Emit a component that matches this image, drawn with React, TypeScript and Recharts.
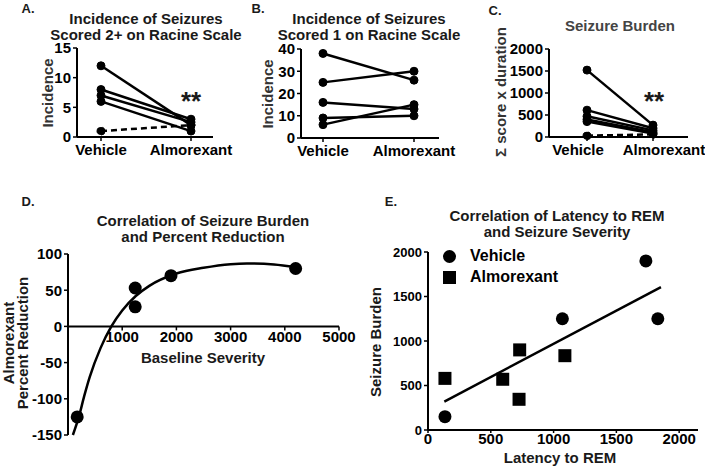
import React from "react";
import {
  LineChart,
  ComposedChart,
  Line,
  Scatter,
  XAxis,
  YAxis,
  ReferenceLine,
  Legend,
} from "recharts";

const FONT = '"Liberation Sans", Arial, sans-serif';

// categories shared by the three paired panels
const treatments = ["Vehicle", "Almorexant"];

// A. seizures scored 2+ (one value per animal, the last animal is drawn dashed)
const score2Vehicle = [12, 8, 7, 6, 1];
const score2Almorexant = [2, 3, 2.5, 1, 2];
const score2Ticks = [0, 5, 10, 15];

// B. seizures scored 1
const score1Vehicle = [38, 25, 16, 9, 6];
const score1Almorexant = [26, 30, 13, 10, 15];
const score1Ticks = [0, 10, 20, 30, 40];

// C. seizure burden
const burdenVehicle = [1520, 610, 470, 400, 350, 30];
const burdenAlmorexant = [270, 200, 150, 110, 80, 60];
const burdenTicks = [0, 500, 1000, 1500, 2000];

// D. baseline severity vs percent reduction
const baselineSeverity = [170, 1240, 1240, 1900, 4200];
const percentReduction = [-125, 53, 27, 70, 80];
const fitSeverity = [90, 200, 300, 400, 600, 800, 1000, 1250, 1500, 2000, 2500, 3000, 3300, 3800, 4200];
const fitReduction = [-150, -125, -96, -70, -30, 0, 22, 42, 56, 73, 81, 86, 87, 85.5, 82];
const severityTicks = [1000, 2000, 3000, 4000, 5000];
const reductionTicks = [-150, -100, -50, 0, 50, 100];

// E. latency to REM vs seizure burden
const vehicleLatency = [135, 1070, 1735, 1830];
const vehicleBurden = [150, 1250, 1900, 1250];
const almoLatency = [135, 595, 730, 725, 1090];
const almoBurden = [580, 570, 900, 345, 835];
const fitLatency = [130, 1855];
const fitBurden = [320, 1605];
const latencyTicks = [0, 500, 1000, 1500, 2000];
const burdenAxisTicks = [0, 500, 1000, 1500, 2000];

const legendOrder = ["Vehicle", "Almorexant"];

const axisLine = { stroke: "#000", strokeWidth: 2 };
const tickLine = { stroke: "#000", strokeWidth: 1.5 };
const tickText = { fill: "#000", fontSize: 15, fontWeight: "bold" };

type CaptionProps = {
  x: number;
  y: number;
  size?: number;
  lh?: number;
  rotate?: boolean;
  color?: string;
  children: React.ReactNode;
};

const Caption = ({ x, y, size = 15, lh, rotate, color = "#1a1a1a", children }: CaptionProps) => (
  <div
    style={{
      position: "absolute",
      left: x,
      top: y,
      transform: `translate(-50%, -50%)${rotate ? " rotate(-90deg)" : ""}`,
      fontSize: size,
      fontWeight: "bold",
      lineHeight: lh ? `${lh}px` : "normal",
      textAlign: "center",
      whiteSpace: "nowrap",
      color,
    }}
  >
    {children}
  </div>
);

// category label that can sit a little off its point (Prism nudges them apart in C)
const makeCategoryTick = (shift: number[]) => (props: any) => {
  const { x, y, payload, index } = props;
  return (
    <text x={x + (shift[index] || 0)} y={y} dy="0.71em" textAnchor="middle" fontSize={15} fontWeight="bold" fill="#000">
      {payload.value}
    </text>
  );
};

type PairedProps = {
  left: number;
  width: number;
  vehicle: number[];
  almorexant: number[];
  dashed: number;
  ticks: number[];
  yWidth: number;
  top: number;
  right: number;
  bottom: number;
  pad: { left: number; right: number };
  shift?: number[];
};

const PairedPanel = ({ left, width, vehicle, almorexant, dashed, ticks, yWidth, top, right, bottom, pad, shift = [0, 0] }: PairedProps) => {
  const rows = treatments.map((name, t) => {
    const row: Record<string, string | number> = { name };
    vehicle.forEach((v, i) => {
      row[`s${i}`] = t === 0 ? v : almorexant[i];
    });
    return row;
  });
  const CategoryTick = makeCategoryTick(shift);
  return (
    <div style={{ position: "absolute", left, top: 0 }}>
      <LineChart width={width} height={180} data={rows} margin={{ top, right, bottom, left: 0 }}>
        <XAxis
          dataKey="name"
          padding={pad}
          interval={0}
          height={30}
          axisLine={axisLine}
          tickLine={tickLine}
          tickSize={4}
          tickMargin={3}
          tick={<CategoryTick />}
        />
        <YAxis
          domain={[ticks[0], ticks[ticks.length - 1]]}
          ticks={ticks}
          interval={0}
          width={yWidth}
          axisLine={axisLine}
          tickLine={tickLine}
          tickSize={4}
          tickMargin={2}
          tick={tickText}
        />
        {vehicle.map((_, i) => (
          <Line
            key={i}
            dataKey={`s${i}`}
            stroke="#000"
            strokeWidth={2.5}
            strokeDasharray={i === dashed ? "6 4" : undefined}
            dot={{ r: 4, fill: "#000", stroke: "#000", strokeWidth: 1 }}
            isAnimationActive={false}
          />
        ))}
      </LineChart>
    </div>
  );
};

// panel D plot box (container coordinates)
const D_TOP = 64;
const D_BOTTOM = 245;
const D_ZERO = D_TOP + ((D_BOTTOM - D_TOP) * 100) / 250;

const SeverityTick = (props: any) => {
  const { x, y, payload } = props;
  return (
    <g transform={`translate(${x},${y - (D_BOTTOM - D_ZERO)})`}>
      <line y1={0} y2={4} stroke="#000" strokeWidth={1.5} />
      <text y={16} textAnchor="middle" fontSize={15} fontWeight="bold" fill="#000">
        {payload.value}
      </text>
    </g>
  );
};

const dotShape = (p: any) => <circle cx={p.cx} cy={p.cy} r={6.5} fill="#000" />;
const squareShape = (p: any) => <rect x={p.cx - 6.5} y={p.cy - 6.5} width={13} height={13} fill="#000" />;

export default function App() {
  const severityPts = baselineSeverity.map((x, i) => ({ x, y: percentReduction[i] }));
  const severityFit = fitSeverity.map((x, i) => ({ x, y: fitReduction[i] }));
  const vehiclePts = vehicleLatency.map((x, i) => ({ x, y: vehicleBurden[i] }));
  const almoPts = almoLatency.map((x, i) => ({ x, y: almoBurden[i] }));
  const latencyFit = fitLatency.map((x, i) => ({ x, y: fitBurden[i] }));

  return (
    <div
      style={{
        position: "absolute",
        left: 0,
        top: 0,
        width: 705,
        height: 468,
        background: "#fff",
        overflow: "hidden",
        fontFamily: FONT,
      }}
    >
      <style>{`.recharts-surface { overflow: visible; }`}</style>
      <PairedPanel
        left={0}
        width={230}
        vehicle={score2Vehicle}
        almorexant={score2Almorexant}
        dashed={4}
        ticks={score2Ticks}
        yWidth={77}
        top={48}
        right={17}
        bottom={13}
        pad={{ left: 24, right: 22 }}
      />
      <PairedPanel
        left={230}
        width={235}
        vehicle={score1Vehicle}
        almorexant={score1Almorexant}
        dashed={-1}
        ticks={score1Ticks}
        yWidth={71}
        top={49}
        right={26}
        bottom={12}
        pad={{ left: 22, right: 25 }}
      />
      <PairedPanel
        left={460}
        width={245}
        vehicle={burdenVehicle}
        almorexant={burdenAlmorexant}
        dashed={5}
        ticks={burdenTicks}
        yWidth={89}
        top={49}
        right={17}
        bottom={13}
        pad={{ left: 38, right: 35 }}
        shift={[-9, 11]}
      />

      {/* D */}
      <div style={{ position: "absolute", left: 0, top: 190 }}>
        <ComposedChart width={360} height={278} margin={{ top: D_TOP, right: 21, bottom: 278 - D_BOTTOM - 30, left: 0 }}>
          <XAxis
            type="number"
            dataKey="x"
            domain={[0, 5000]}
            ticks={severityTicks}
            interval={0}
            height={30}
            axisLine={false}
            tickLine={false}
            tickSize={0}
            tickMargin={0}
            tick={<SeverityTick />}
          />
          <YAxis
            type="number"
            dataKey="y"
            domain={[-150, 100]}
            ticks={reductionTicks}
            interval={0}
            width={68}
            axisLine={axisLine}
            tickLine={tickLine}
            tickSize={4}
            tickMargin={2}
            tick={tickText}
          />
          <ReferenceLine y={0} stroke="#000" strokeWidth={2} />
          <Line data={severityFit} dataKey="y" type="monotone" stroke="#000" strokeWidth={2.5} dot={false} isAnimationActive={false} />
          <Scatter data={severityPts} dataKey="y" fill="#000" shape={dotShape} isAnimationActive={false} />
        </ComposedChart>
      </div>

      {/* E */}
      <div style={{ position: "absolute", left: 360, top: 190 }}>
        <ComposedChart width={345} height={278} margin={{ top: 62, right: 7, bottom: 13, left: 0 }}>
          <XAxis
            type="number"
            dataKey="x"
            domain={[0, 2150]}
            ticks={latencyTicks}
            interval={0}
            height={25}
            axisLine={axisLine}
            tickLine={tickLine}
            tickSize={3}
            tickMargin={0}
            tick={tickText}
          />
          <YAxis
            type="number"
            dataKey="y"
            domain={[0, 2000]}
            ticks={burdenAxisTicks}
            interval={0}
            width={68}
            axisLine={axisLine}
            tickLine={tickLine}
            tickSize={4}
            tickMargin={2}
            tick={{ ...tickText, fontSize: 13 }}
          />
          <Legend
            layout="vertical"
            align="center"
            verticalAlign="middle"
            iconSize={13}
            itemSorter={(item: any) => legendOrder.indexOf(item.value)}
            wrapperStyle={{ left: 83, top: 55, fontSize: 16, fontWeight: "bold", lineHeight: "21px", width: 160 }}
            formatter={(value) => <span style={{ marginLeft: 10, color: "#000" }}>{value}</span>}
          />
          <Line data={latencyFit} dataKey="y" stroke="#000" strokeWidth={2.5} dot={false} legendType="none" isAnimationActive={false} />
          <Scatter name="Vehicle" data={vehiclePts} fill="#000" legendType="circle" shape={dotShape} isAnimationActive={false} />
          <Scatter name="Almorexant" data={almoPts} fill="#000" legendType="square" shape={squareShape} isAnimationActive={false} />
        </ComposedChart>
      </div>

      {/* panel letters */}
      <Caption x={28} y={8} size={13}>A.</Caption>
      <Caption x={258} y={8} size={13}>B.</Caption>
      <Caption x={495} y={10} size={13}>C.</Caption>
      <Caption x={28} y={201} size={13}>D.</Caption>
      <Caption x={391} y={201} size={13}>E.</Caption>

      {/* titles */}
      <Caption x={146} y={27} lh={16}>
        Incidence of Seizures
        <br />
        Scored 2+ on Racine Scale
      </Caption>
      <Caption x={369} y={27} lh={16}>
        Incidence of Seizures
        <br />
        Scored 1 on Racine Scale
      </Caption>
      <Caption x={620} y={25} color="#444">Seizure Burden</Caption>
      <Caption x={203} y={229} lh={16}>
        Correlation of Seizure Burden
        <br />
        and Percent Reduction
      </Caption>
      <Caption x={557} y={224} lh={16}>
        Correlation of Latency to REM
        <br />
        and Seizure Severity
      </Caption>

      {/* axis titles */}
      <Caption x={47} y={93} rotate color="#333">Incidence</Caption>
      <Caption x={267} y={94} rotate color="#333">Incidence</Caption>
      <Caption x={500} y={92} rotate color="#333">Σ score x duration</Caption>
      <Caption x={16} y={343} rotate lh={14}>
        Almorexant
        <br />
        Percent Reduction
      </Caption>
      <Caption x={203} y={357}>Baseline Severity</Caption>
      <Caption x={375} y={342} rotate>Seizure Burden</Caption>
      <Caption x={560} y={457}>Latency to REM</Caption>

      {/* significance marks */}
      <Caption x={191} y={101} size={26}>**</Caption>
      <Caption x={654} y={101} size={26}>**</Caption>
    </div>
  );
}
